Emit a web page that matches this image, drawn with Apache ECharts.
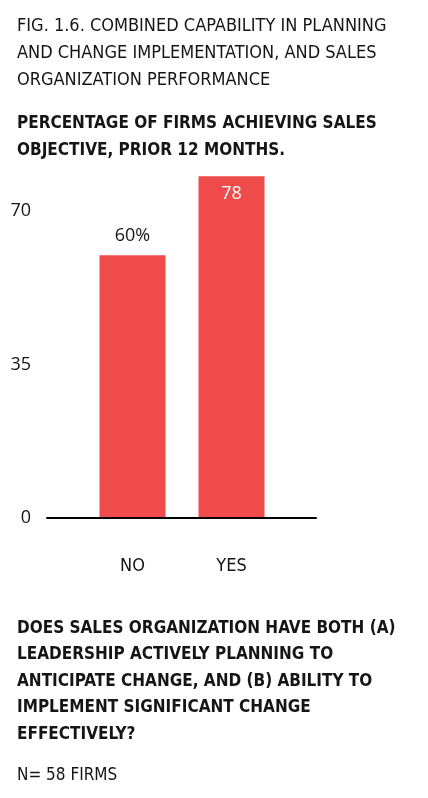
<!DOCTYPE html>
<html>
<head>
<meta charset="utf-8">
<script src="https://cdn.jsdelivr.net/npm/echarts@6/dist/echarts.min.js"></script>
<style>
  html, body { margin: 0; padding: 0; background: #fff; }
  #chart { width: 428px; height: 798px; }
</style>
</head>
<body>
<div id="chart"></div>
<script>
// data
var categories = ['NO', 'YES'];
var values = [60, 78];
var valueLabels = ['60%', '78'];
var tickLabels = [0, 35, 70];

var condensed = '"DejaVu Sans Condensed", Roboto, sans-serif';
var numFont = '"Open Sans", sans-serif';
var ink = '#151515';
var red = '#F04B4B';

var chart = echarts.init(document.getElementById('chart'));

var option = {
  backgroundColor: '#fff',
  animation: false,
  title: [
    { // figure title
      text: 'FIG. 1.6. COMBINED CAPABILITY IN PLANNING\nAND CHANGE IMPLEMENTATION, AND SALES\nORGANIZATION PERFORMANCE',
      left: 17, top: 13, padding: 0,
      textStyle: { fontFamily: condensed, fontSize: 18, fontWeight: 'normal', color: ink, lineHeight: 27 }
    },
    {
      text: 'PERCENTAGE OF FIRMS ACHIEVING SALES\nOBJECTIVE, PRIOR 12 MONTHS.',
      left: 17, top: 110, padding: 0,
      textStyle: { fontFamily: condensed, fontSize: 17, fontWeight: 'bold', color: ink, lineHeight: 27 }
    },
    {
      text: 'DOES SALES ORGANIZATION HAVE BOTH (A)\nLEADERSHIP ACTIVELY PLANNING TO\nANTICIPATE CHANGE, AND (B) ABILITY TO\nIMPLEMENT SIGNIFICANT CHANGE\nEFFECTIVELY?',
      left: 17, top: 615, padding: 0,
      textStyle: { fontFamily: condensed, fontSize: 17, fontWeight: 'bold', color: ink, lineHeight: 26.5 }
    },
    {
      text: 'N= 58 FIRMS',
      left: 17, top: 763, padding: 0,
      textStyle: { fontFamily: condensed, fontSize: 17, fontWeight: 'normal', color: ink, lineHeight: 26 }
    }
  ],
  grid: [
    { left: 83, right: 147, top: 58, bottom: 280 },   // bars
    { left: 47, right: 112, top: 58, bottom: 280 }    // baseline + y labels
  ],
  xAxis: [
    {
      type: 'category', gridIndex: 0, data: categories,
      axisLine: { show: false }, axisTick: { show: false },
      axisLabel: { margin: 39, fontFamily: condensed, fontSize: 18, color: ink }
    },
    {
      type: 'category', gridIndex: 1, data: categories, z: 5,
      axisLine: { show: true, lineStyle: { color: '#000', width: 2 } },
      axisTick: { show: false }, axisLabel: { show: false }
    }
  ],
  yAxis: [
    {
      type: 'value', gridIndex: 0, min: 0, max: 105, interval: 35,
      show: false, splitLine: { show: false }
    },
    {
      type: 'value', gridIndex: 1, min: 0, max: 105, interval: 35,
      axisLine: { show: false }, axisTick: { show: false }, splitLine: { show: false },
      axisLabel: {
        margin: 16, fontFamily: numFont, fontSize: 18, color: ink,
        formatter: function (v) { return tickLabels.indexOf(v) > -1 ? String(v) : ''; }
      }
    }
  ],
  series: [{
    type: 'bar',
    xAxisIndex: 0, yAxisIndex: 0,
    barWidth: 66,
    itemStyle: { color: red },
    data: values.map(function (v, i) {
      var inside = i === 1;
      return {
        value: v,
        label: {
          show: true,
          position: inside ? 'insideTop' : 'top',
          distance: inside ? 9 : 10,
          formatter: valueLabels[i],
          fontFamily: numFont, fontSize: 18,
          color: inside ? '#fff' : ink
        }
      };
    })
  }]
};

chart.setOption(option);
</script>
</body>
</html>
